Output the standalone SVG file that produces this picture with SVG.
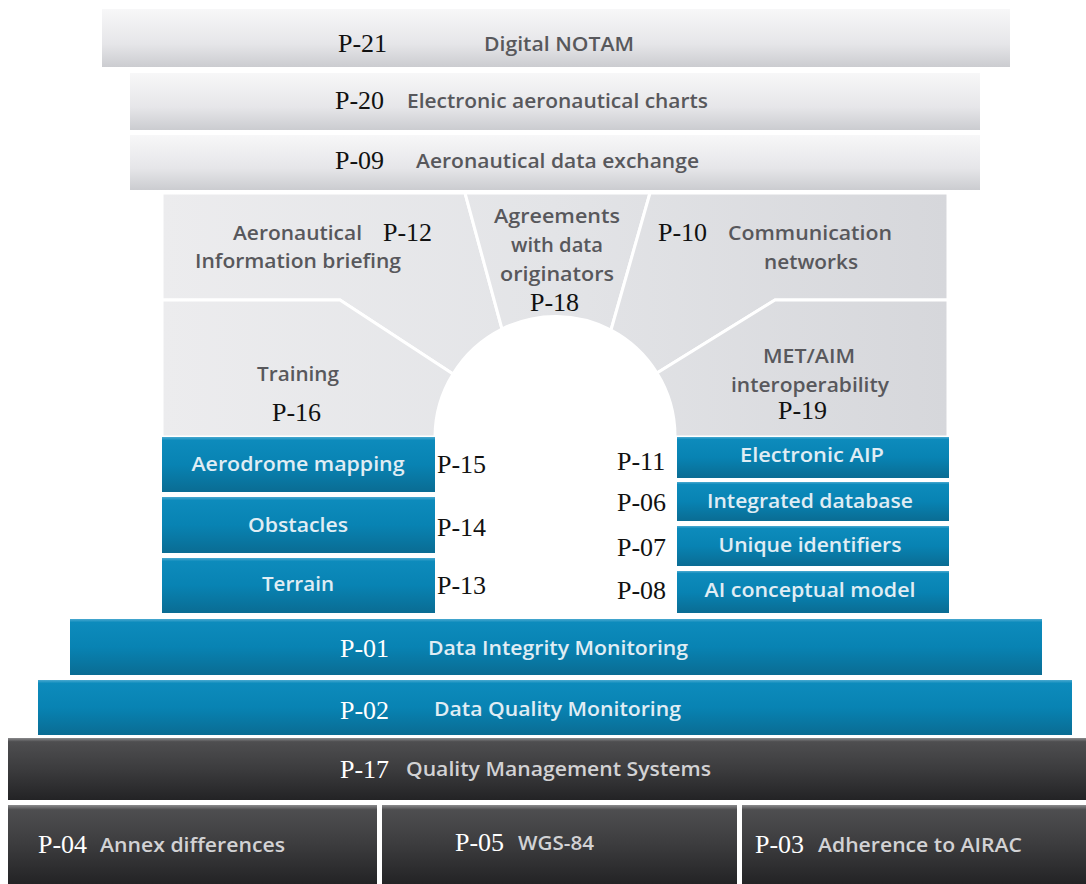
<svg xmlns="http://www.w3.org/2000/svg" width="1086" height="884" viewBox="0 0 1086 884">
<defs>
<linearGradient id="gTop" x1="0" y1="0" x2="0" y2="1">
<stop offset="0" stop-color="#f7f7f8"/>
<stop offset="0.6" stop-color="#e6e6e9"/>
<stop offset="1" stop-color="#cbccd0"/>
</linearGradient>
<linearGradient id="gPanel" gradientUnits="userSpaceOnUse" x1="162" y1="0" x2="948" y2="0">
<stop offset="0" stop-color="#ececee"/>
<stop offset="0.5" stop-color="#e3e4e7"/>
<stop offset="1" stop-color="#d6d7db"/>
</linearGradient>
<linearGradient id="gBlue" x1="0" y1="0" x2="0" y2="1">
<stop offset="0" stop-color="#4aa9d0"/>
<stop offset="0.06" stop-color="#0d8bbc"/>
<stop offset="0.5" stop-color="#0883b3"/>
<stop offset="1" stop-color="#0a6c93"/>
</linearGradient>
<linearGradient id="gDark" x1="0" y1="0" x2="0" y2="1">
<stop offset="0" stop-color="#8a8a8c"/>
<stop offset="0.06" stop-color="#4e4e50"/>
<stop offset="0.5" stop-color="#3c3c3e"/>
<stop offset="1" stop-color="#232325"/>
</linearGradient>
</defs>
<style>
.top{fill:url(#gTop)}
.panel{fill:url(#gPanel);stroke:#ffffff;stroke-width:3;stroke-linejoin:miter}
.blue{fill:url(#gBlue)}
.dark{fill:url(#gDark)}
.p{font-family:"Liberation Serif","Times New Roman",serif;font-size:26px;fill:#111111}
.pw{font-family:"Liberation Serif","Times New Roman",serif;font-size:26px;fill:#ffffff}
.t{font-family:"Open Sans","Noto Sans","Liberation Sans",sans-serif;font-size:20px;font-weight:600;fill:#58585c}
.tb{font-family:"Open Sans","Noto Sans","Liberation Sans",sans-serif;font-size:20px;font-weight:600;fill:#e0edf4}
.td{font-family:"Open Sans","Noto Sans","Liberation Sans",sans-serif;font-size:20px;font-weight:600;fill:#d2d2d4}
</style>
<rect width="1086" height="884" fill="#ffffff"/>

<g id="p21">
<rect class="top" x="102" y="9" width="908" height="58"/>
<text class="p" x="338" y="52">P-21</text>
<text class="t" x="484" y="51" textLength="150" lengthAdjust="spacingAndGlyphs">Digital NOTAM</text>
</g>
<g id="p20">
<rect class="top" x="130" y="73" width="850" height="57"/>
<text class="p" x="335" y="109">P-20</text>
<text class="t" x="407" y="108" textLength="301" lengthAdjust="spacingAndGlyphs">Electronic aeronautical charts</text>
</g>
<g id="p09">
<rect class="top" x="130" y="135" width="850" height="55"/>
<text class="p" x="335" y="169">P-09</text>
<text class="t" x="416" y="168" textLength="283" lengthAdjust="spacingAndGlyphs">Aeronautical data exchange</text>
</g>

<g id="p12">
<path class="panel" d="M162,193 L465,193 L502,329 A120,120 0 0 0 453,374 L340,300 L162,300 Z"/>
<text class="t" x="233" y="240" textLength="129" lengthAdjust="spacingAndGlyphs">Aeronautical</text>
<text class="t" x="195" y="268" textLength="206" lengthAdjust="spacingAndGlyphs">Information briefing</text>
<text class="p" x="383" y="241">P-12</text>
</g>
<g id="p18">
<path class="panel" d="M465,193 L650,193 L611,330 A120,120 0 0 0 502,329 Z"/>
<text class="t" x="494" y="223" textLength="126" lengthAdjust="spacingAndGlyphs">Agreements</text>
<text class="t" x="511" y="252" textLength="92" lengthAdjust="spacingAndGlyphs">with data</text>
<text class="t" x="500" y="281" textLength="114" lengthAdjust="spacingAndGlyphs">originators</text>
<text class="p" x="530" y="311">P-18</text>
</g>
<g id="p10">
<path class="panel" d="M650,193 L948,193 L948,300 L775,300 L657,373 A120,120 0 0 0 611,330 Z"/>
<text class="p" x="658" y="241">P-10</text>
<text class="t" x="728" y="240" textLength="164" lengthAdjust="spacingAndGlyphs">Communication</text>
<text class="t" x="764" y="269" textLength="94" lengthAdjust="spacingAndGlyphs">networks</text>
</g>
<g id="p16">
<path class="panel" d="M162,300 L340,300 L453,374 A120,120 0 0 0 435,437 L162,437 Z"/>
<text class="t" x="257" y="381" textLength="82" lengthAdjust="spacingAndGlyphs">Training</text>
<text class="p" x="272" y="421">P-16</text>
</g>
<g id="p19">
<path class="panel" d="M775,300 L948,300 L948,437 L675,437 A120,120 0 0 0 657,373 Z"/>
<text class="t" x="763" y="363" textLength="92" lengthAdjust="spacingAndGlyphs">MET/AIM</text>
<text class="t" x="731" y="392" textLength="158" lengthAdjust="spacingAndGlyphs">interoperability</text>
<text class="p" x="778" y="419">P-19</text>
</g>

<g id="p15">
<rect class="blue" x="162" y="437" width="273" height="55"/>
<text class="tb" x="298" y="471" text-anchor="middle" textLength="213" lengthAdjust="spacingAndGlyphs">Aerodrome mapping</text>
<text class="p" x="437" y="473">P-15</text>
</g>
<g id="p14">
<rect class="blue" x="162" y="497" width="273" height="56"/>
<text class="tb" x="298" y="532" text-anchor="middle" textLength="100" lengthAdjust="spacingAndGlyphs">Obstacles</text>
<text class="p" x="437" y="536">P-14</text>
</g>
<g id="p13">
<rect class="blue" x="162" y="558" width="273" height="55"/>
<text class="tb" x="298" y="591" text-anchor="middle" textLength="72" lengthAdjust="spacingAndGlyphs">Terrain</text>
<text class="p" x="437" y="594">P-13</text>
</g>

<g id="p11">
<rect class="blue" x="677" y="437" width="272" height="41"/>
<text class="tb" x="812" y="462" text-anchor="middle" textLength="144" lengthAdjust="spacingAndGlyphs">Electronic AIP</text>
<text class="p" x="617" y="470">P-11</text>
</g>
<g id="p06">
<rect class="blue" x="677" y="482" width="272" height="39"/>
<text class="tb" x="810" y="508" text-anchor="middle" textLength="206" lengthAdjust="spacingAndGlyphs">Integrated database</text>
<text class="p" x="617" y="511">P-06</text>
</g>
<g id="p07">
<rect class="blue" x="677" y="526" width="272" height="40"/>
<text class="tb" x="810" y="552" text-anchor="middle" textLength="183" lengthAdjust="spacingAndGlyphs">Unique identifiers</text>
<text class="p" x="617" y="556">P-07</text>
</g>
<g id="p08">
<rect class="blue" x="677" y="571" width="272" height="42"/>
<text class="tb" x="810" y="597" text-anchor="middle" textLength="211" lengthAdjust="spacingAndGlyphs">AI conceptual model</text>
<text class="p" x="617" y="599">P-08</text>
</g>

<g id="p01">
<rect class="blue" x="70" y="619" width="972" height="56"/>
<text class="pw" x="340" y="657">P-01</text>
<text class="tb" x="428" y="655" textLength="260" lengthAdjust="spacingAndGlyphs">Data Integrity Monitoring</text>
</g>
<g id="p02">
<rect class="blue" x="38" y="680" width="1034" height="55"/>
<text class="pw" x="340" y="719">P-02</text>
<text class="tb" x="434" y="716" textLength="247" lengthAdjust="spacingAndGlyphs">Data Quality Monitoring</text>
</g>
<g id="p17">
<rect class="dark" x="8" y="738" width="1078" height="62"/>
<text class="pw" x="340" y="778">P-17</text>
<text class="td" x="406" y="776" textLength="305" lengthAdjust="spacingAndGlyphs">Quality Management Systems</text>
</g>
<g id="p04">
<rect class="dark" x="8" y="805" width="369" height="79"/>
<text class="pw" x="38" y="853">P-04</text>
<text class="td" x="100" y="852" textLength="185" lengthAdjust="spacingAndGlyphs">Annex differences</text>
</g>
<g id="p05">
<rect class="dark" x="382" y="805" width="355" height="79"/>
<text class="pw" x="455" y="851">P-05</text>
<text class="td" x="518" y="850" textLength="76" lengthAdjust="spacingAndGlyphs">WGS-84</text>
</g>
<g id="p03">
<rect class="dark" x="742" y="805" width="344" height="79"/>
<text class="pw" x="755" y="853">P-03</text>
<text class="td" x="818" y="852" textLength="204" lengthAdjust="spacingAndGlyphs">Adherence to AIRAC</text>
</g>
<g id="connectors"/>
</svg>
